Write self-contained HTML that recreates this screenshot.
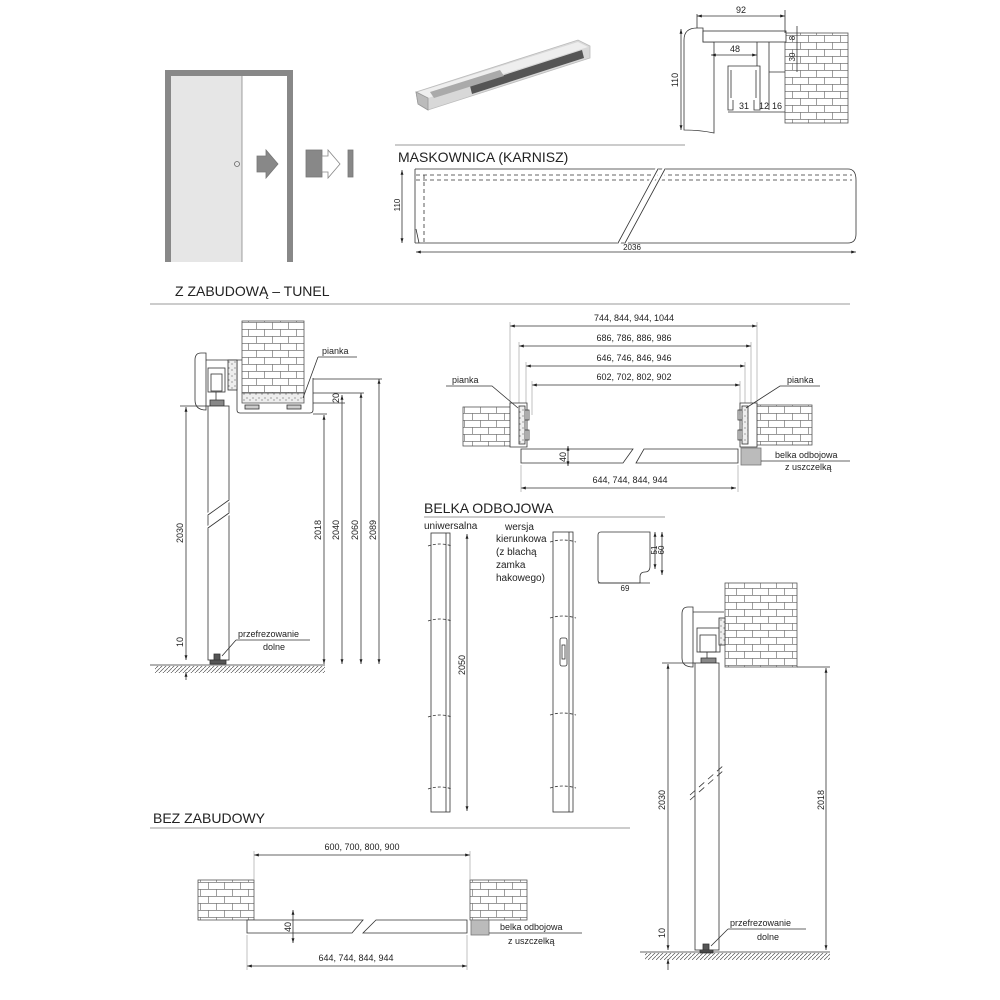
<!DOCTYPE html>
<html><head><meta charset="utf-8"><style>
html,body{margin:0;padding:0;background:#fff;}
svg{display:block;font-family:"Liberation Sans",sans-serif;}
</style></head><body>
<svg width="1000" height="1000" viewBox="0 0 1000 1000" xmlns="http://www.w3.org/2000/svg">
<defs>
<pattern id="brick" width="16" height="14" patternUnits="userSpaceOnUse">
<rect width="16" height="14" fill="#fff"/>
<path d="M0 0.5H16M0 7.5H16M0.5 0V7M8.5 7V14" stroke="#777" stroke-width="0.7" fill="none"/>
</pattern>
<pattern id="hatch" width="4" height="4" patternUnits="userSpaceOnUse">
<path d="M0 4L4 0" stroke="#555" stroke-width="0.7"/>
</pattern>
<pattern id="foam" width="6" height="6" patternUnits="userSpaceOnUse">
<rect width="6" height="6" fill="#eee"/><circle cx="1" cy="2" r="0.6" fill="#666"/><circle cx="4" cy="4" r="0.6" fill="#666"/>
</pattern>
<marker id="a" viewBox="0 0 10 10" refX="10" refY="5" markerWidth="6" markerHeight="6" orient="auto-start-reverse">
<path d="M0 2L10 5L0 8z" fill="#222"/></marker>
</defs>
<g stroke="#333" stroke-width="0.8" fill="none" font-size="9" >

<!-- door icon -->
<rect x="171" y="76" width="71" height="186" fill="#e6e6e6" stroke="none"/>
<path d="M168 262 V73 H290 V262" stroke="#888" stroke-width="6"/>
<line x1="242" y1="76" x2="242" y2="262" stroke="#888"/>
<circle cx="237" cy="164" r="2.5" stroke="#666"/>
<polygon points="257,156 266,156 266,150 278,164 266,178 266,172 257,172" fill="#888" stroke="#777"/>
<rect x="306" y="150" width="16" height="27" fill="#888" stroke="#777"/>
<polygon points="322,156 328,156 328,150 340,164 328,178 328,172 322,172" fill="#fff" stroke="#888"/>
<rect x="348" y="150" width="5" height="27" fill="#888" stroke="#777"/>

<!-- product photo -->
<polygon points="416,92 578,40 590,46 590,58 428,110 418,104" fill="#d8d8d8" stroke="#bbb"/>
<polygon points="418,92 578,42 588,47 428,98" fill="#eee" stroke="none"/>
<polygon points="470,86 582,50 584,58 472,94" fill="#555" stroke="none"/>
<polygon points="430,92 500,70 504,76 434,98" fill="#aaa" stroke="none"/>
<polygon points="416,92 428,98 428,110 418,104" fill="#bbb" stroke="#999"/>

<!-- top right profile -->
<rect x="785" y="33" width="63" height="90" fill="url(#brick)" stroke="#555"/>
<path d="M697 28 Q684 28 684 40 L684 130 Q700 130 714 133 L714 42 L703 42 L703 28 Z" fill="#fff"/>
<rect x="703" y="31" width="83" height="11" fill="#fff"/>
<path d="M757 42 V66 H728 V110 H733 V100 M757 42 L757 66 L760 66 V110 H754 V100 M731 70 V98 M756 70 V98" />
<path d="M769 42 V110 M769 72 H785" />
<line x1="697" y1="16" x2="785" y2="16" marker-start="url(#a)" marker-end="url(#a)"/>
<line x1="697" y1="14" x2="697" y2="28"/><line x1="785" y1="10" x2="785" y2="33"/>
<text x="741" y="13" stroke="none" fill="#222" text-anchor="middle">92</text>
<line x1="681" y1="29" x2="681" y2="130" marker-start="url(#a)" marker-end="url(#a)"/>
<text transform="translate(678,80) rotate(-90)" stroke="none" fill="#222" text-anchor="middle">110</text>
<line x1="711" y1="55" x2="757" y2="55" marker-start="url(#a)" marker-end="url(#a)"/>
<text x="735" y="52" stroke="none" fill="#222" text-anchor="middle">48</text>
<line x1="728" y1="112" x2="785" y2="112"/>
<text x="744" y="109" stroke="none" fill="#222" text-anchor="middle">31</text>
<text x="764" y="109" stroke="none" fill="#222" text-anchor="middle">12</text>
<text x="777" y="109" stroke="none" fill="#222" text-anchor="middle">16</text>
<line x1="797" y1="26" x2="797" y2="72" />
<text transform="translate(795,38) rotate(-90)" stroke="none" fill="#222" text-anchor="middle" font-size="8">8</text>
<text transform="translate(795,57) rotate(-90)" stroke="none" fill="#222" text-anchor="middle" font-size="8">30</text>

<!-- maskownica -->
<line x1="395" y1="145" x2="685" y2="145" stroke="#777"/>
<text x="398" y="162" stroke="none" fill="#222" font-size="14">MASKOWNICA (KARNISZ)</text>
<path d="M415 169 H848 Q856 169 856 180 V234 Q856 243 848 243 H415" />
<path d="M415 169 V243 M416 229 L419 243"/>
<path d="M416 175 H852 M416 180 H852 M424 175 V243" stroke-dasharray="4,3"/>
<path d="M658 169 L618 243 M665 169 L625 243" stroke="#fff" stroke-width="5"/>
<path d="M658 169 L618 243 M665 169 L625 243"/>
<line x1="402" y1="170" x2="402" y2="243" marker-start="url(#a)" marker-end="url(#a)"/>
<text transform="translate(400,205) rotate(-90)" stroke="none" fill="#222" text-anchor="middle" font-size="8">110</text>
<line x1="416" y1="252" x2="856" y2="252" marker-start="url(#a)" marker-end="url(#a)"/>
<text x="632" y="250" stroke="none" fill="#222" text-anchor="middle" font-size="8">2036</text>

<!-- section 2 header -->
<text x="175" y="296" stroke="none" fill="#222" font-size="14">Z ZABUDOWĄ – TUNEL</text>
<line x1="150" y1="304" x2="850" y2="304" stroke="#777"/>

<!-- left tunnel elevation -->
<rect x="242" y="321" width="62" height="72" fill="url(#brick)" stroke="#555"/>
<rect x="242" y="393" width="62" height="10" fill="url(#foam)" stroke="#555"/>
<path d="M237 360 V410 Q237 413 240 413 H310 Q313 413 313 410 V378"/>
<path d="M201 353 Q195 353 195 360 V400 Q195 410 206 410 V353 Z" fill="#fff"/>
<path d="M206 360 H242"/>
<rect x="208" y="368" width="17" height="24" fill="#fff"/>
<rect x="211" y="374" width="11" height="17"/>
<rect x="228" y="360" width="9" height="30" fill="url(#foam)"/>
<path d="M216 392 V400 M210 400 H224 V406 H210 Z" fill="#888"/>
<rect x="245" y="405" width="14" height="4" fill="#ccc"/><rect x="287" y="405" width="14" height="4" fill="#ccc"/>
<rect x="208" y="406" width="21" height="254" fill="#fff"/>
<path d="M208 515 L229 500 M208 528 L229 513" stroke="#fff" stroke-width="4"/>
<path d="M208 515 L229 500 M208 528 L229 513"/>
<path d="M214 660 V654 H220 V660 M210 660 H226 V664 H210Z" fill="#555"/>
<line x1="150" y1="665" x2="325" y2="665"/>
<rect x="155" y="666" width="170" height="7" fill="url(#hatch)" stroke="none"/>
<line x1="186" y1="407" x2="186" y2="660" marker-start="url(#a)" marker-end="url(#a)"/>
<line x1="180" y1="406" x2="208" y2="406"/>
<line x1="186" y1="672" x2="186" y2="680" marker-start="url(#a)"/>
<text transform="translate(183,533) rotate(-90)" stroke="none" fill="#222" text-anchor="middle">2030</text>
<text transform="translate(183,642) rotate(-90)" stroke="none" fill="#222" text-anchor="middle">10</text>
<g marker-start="url(#a)" marker-end="url(#a)">
<line x1="324" y1="415" x2="324" y2="664"/>
<line x1="342" y1="395" x2="342" y2="664"/>
<line x1="361" y1="393" x2="361" y2="664"/>
<line x1="379" y1="379" x2="379" y2="664"/>
</g>
<path d="M313 379 H382 M313 393 H364 M313 403 H345 M313 414 H327"/>
<text transform="translate(321,530) rotate(-90)" stroke="none" fill="#222" text-anchor="middle">2018</text>
<text transform="translate(339,530) rotate(-90)" stroke="none" fill="#222" text-anchor="middle">2040</text>
<text transform="translate(358,530) rotate(-90)" stroke="none" fill="#222" text-anchor="middle">2060</text>
<text transform="translate(376,530) rotate(-90)" stroke="none" fill="#222" text-anchor="middle">2089</text>
<text transform="translate(339,398) rotate(-90)" stroke="none" fill="#222" text-anchor="middle">20</text>
<text x="322" y="354" stroke="none" fill="#222">pianka</text>
<path d="M318 357 H357 M318 357 L303 398"/>
<text x="238" y="637" stroke="none" fill="#222">przefrezowanie</text>
<text x="274" y="650" stroke="none" fill="#222" text-anchor="middle">dolne</text>
<path d="M236 640 H310 M236 640 L222 656"/>

<!-- plan tunnel -->
<g marker-start="url(#a)" marker-end="url(#a)">
<line x1="510" y1="326" x2="757" y2="326"/>
<line x1="519" y1="346" x2="751" y2="346"/>
<line x1="526" y1="366" x2="745" y2="366"/>
<line x1="532" y1="385" x2="740" y2="385"/>
</g>
<path d="M510 322 V405 M519 342 V405 M526 362 V405 M532 381 V415 M757 322 V405 M751 342 V405 M745 362 V405 M740 381 V415" stroke="#999" stroke-width="0.6"/>
<text x="634" y="321" stroke="none" fill="#222" text-anchor="middle">744, 844, 944, 1044</text>
<text x="634" y="341" stroke="none" fill="#222" text-anchor="middle">686, 786, 886, 986</text>
<text x="634" y="361" stroke="none" fill="#222" text-anchor="middle">646, 746, 846, 946</text>
<text x="634" y="380" stroke="none" fill="#222" text-anchor="middle">602, 702, 802, 902</text>
<rect x="463" y="407" width="57" height="39" fill="url(#brick)" stroke="#555"/>
<path d="M510 403 H527 V447 H510 Z" fill="#fff"/>
<rect x="519" y="406" width="6" height="38" fill="url(#foam)"/>
<path d="M525 410 H529 V420 H525 M525 430 H529 V440 H525"/>
<rect x="750" y="405" width="62" height="40" fill="url(#brick)" stroke="#555"/>
<path d="M757 403 H740 V447 H757 Z" fill="#fff"/>
<rect x="742" y="406" width="6" height="38" fill="url(#foam)"/>
<path d="M742 410 H738 V420 H742 M742 430 H738 V440 H742"/>
<text x="452" y="383" stroke="none" fill="#222">pianka</text>
<path d="M446 386 H492 L518 408"/>
<text x="787" y="383" stroke="none" fill="#222">pianka</text>
<path d="M820 386 H780 L746 408"/>
<path d="M521 449 H633 L623 463 H521 Z M644 449 H738 V463 H636 Z" fill="#fff"/>
<rect x="741" y="448" width="20" height="17" fill="#bbb" stroke="#777"/>
<line x1="568" y1="446" x2="568" y2="466" marker-start="url(#a)" marker-end="url(#a)"/>
<text transform="translate(566,457) rotate(-90)" stroke="none" fill="#222" text-anchor="middle">40</text>
<line x1="521" y1="488" x2="736" y2="488" marker-start="url(#a)" marker-end="url(#a)"/>
<path d="M521 465 V492 M738 465 V492" stroke="#999" stroke-width="0.6"/>
<text x="630" y="483" stroke="none" fill="#222" text-anchor="middle">644, 744, 844, 944</text>
<text x="775" y="458" stroke="none" fill="#222">belka odbojowa</text>
<text x="785" y="470" stroke="none" fill="#222">z uszczelką</text>
<line x1="761" y1="461" x2="850" y2="461"/>

<!-- belka odbojowa -->
<text x="424" y="513" stroke="none" fill="#222" font-size="14">BELKA ODBOJOWA</text>
<line x1="424" y1="517" x2="665" y2="517" stroke="#777"/>
<text x="424" y="529" stroke="none" fill="#222" font-size="10">uniwersalna</text>
<g stroke="none" fill="#222" font-size="10">
<text x="505" y="530">wersja</text>
<text x="496" y="542">kierunkowa</text>
<text x="496" y="555">(z blachą</text>
<text x="496" y="568">zamka</text>
<text x="496" y="581">hakowego)</text>
</g>
<rect x="431" y="533" width="19" height="279" fill="#fff"/>
<line x1="446" y1="533" x2="446" y2="812"/>
<rect x="553" y="532" width="20" height="280" fill="#fff"/>
<line x1="569" y1="532" x2="569" y2="812"/>
<rect x="560" y="638" width="7" height="28" rx="2"/>
<rect x="562" y="645" width="3" height="14"/>
<path d="M428 546 Q440 542 452 546 M428 621 Q440 617 452 621 M428 717 Q440 713 452 717 M428 789 Q440 785 452 789 M550 542 Q563 538 576 542 M550 618 Q563 614 576 618 M550 715 Q563 711 576 715 M550 788 Q563 784 576 788" stroke-dasharray="3,2"/>
<line x1="467" y1="534" x2="467" y2="811" marker-start="url(#a)" marker-end="url(#a)"/>
<text transform="translate(465,665) rotate(-90)" stroke="none" fill="#222" text-anchor="middle">2050</text>
<path d="M601 532 H650 V566 Q650 572 645 572 Q640 572 640 577 V583 H601 Q598 583 598 580 V535 Q598 532 601 532 Z"/>
<line x1="598" y1="583" x2="650" y2="583"/>
<text x="625" y="591" stroke="none" fill="#222" text-anchor="middle" font-size="8">69</text>
<line x1="655" y1="532" x2="655" y2="569" marker-start="url(#a)" marker-end="url(#a)"/>
<line x1="662" y1="532" x2="662" y2="575" marker-start="url(#a)" marker-end="url(#a)"/>
<text transform="translate(657,550) rotate(-90)" stroke="none" fill="#222" text-anchor="middle" font-size="8">51</text>
<text transform="translate(664,550) rotate(-90)" stroke="none" fill="#222" text-anchor="middle" font-size="8">60</text>

<!-- bottom right elevation -->
<rect x="725" y="583" width="72" height="84" fill="url(#brick)" stroke="#555"/>
<path d="M688 607 Q682 607 682 614 V658 Q682 667 693 667 V607 Z" fill="#fff"/>
<path d="M693 612 H724"/>
<rect x="697" y="628" width="23" height="24" fill="#fff"/>
<rect x="700" y="635" width="16" height="17"/>
<rect x="719" y="618" width="6" height="27" fill="url(#foam)"/>
<path d="M707 652 V658 M701 658 H716 V663 H701 Z" fill="#888"/>
<rect x="695" y="663" width="24" height="287" fill="#fff"/>
<path d="M690 800 L724 770 M690 795 L724 765" stroke-dasharray="7,5"/>
<path d="M703 950 V944 H709 V950 M700 950 H713 V953 H700Z" fill="#555"/>
<line x1="640" y1="952" x2="830" y2="952"/>
<rect x="645" y="953" width="185" height="7" fill="url(#hatch)" stroke="none"/>
<line x1="668" y1="664" x2="668" y2="950" marker-start="url(#a)" marker-end="url(#a)"/>
<line x1="662" y1="663" x2="695" y2="663"/>
<line x1="668" y1="959" x2="668" y2="970" marker-start="url(#a)"/>
<text transform="translate(665,800) rotate(-90)" stroke="none" fill="#222" text-anchor="middle">2030</text>
<text transform="translate(665,933) rotate(-90)" stroke="none" fill="#222" text-anchor="middle">10</text>
<line x1="826" y1="668" x2="826" y2="950" marker-start="url(#a)" marker-end="url(#a)"/>
<line x1="797" y1="667" x2="830" y2="667"/>
<text transform="translate(824,800) rotate(-90)" stroke="none" fill="#222" text-anchor="middle">2018</text>
<text x="730" y="926" stroke="none" fill="#222">przefrezowanie</text>
<text x="768" y="940" stroke="none" fill="#222" text-anchor="middle">dolne</text>
<path d="M728 929 H806 M728 929 L711 946"/>

<!-- bez zabudowy -->
<text x="153" y="823" stroke="none" fill="#222" font-size="14">BEZ  ZABUDOWY</text>
<line x1="150" y1="828" x2="630" y2="828" stroke="#777"/>
<rect x="198" y="880" width="56" height="40" fill="url(#brick)" stroke="#555"/>
<rect x="470" y="880" width="57" height="40" fill="url(#brick)" stroke="#555"/>
<line x1="254" y1="855" x2="470" y2="855" marker-start="url(#a)" marker-end="url(#a)"/>
<path d="M254 851 V880 M470 851 V880" stroke="#999" stroke-width="0.6"/>
<text x="362" y="850" stroke="none" fill="#222" text-anchor="middle">600, 700, 800, 900</text>
<path d="M247 920 H363 L352 933 H247 Z M376 920 H467 V933 H363 Z" fill="#fff"/>
<rect x="471" y="920" width="18" height="15" fill="#bbb" stroke="#777"/>
<line x1="293" y1="910" x2="293" y2="943" marker-start="url(#a)" marker-end="url(#a)"/>
<text transform="translate(291,927) rotate(-90)" stroke="none" fill="#222" text-anchor="middle">40</text>
<line x1="247" y1="966" x2="467" y2="966" marker-start="url(#a)" marker-end="url(#a)"/>
<path d="M247 935 V970 M467 935 V970" stroke="#999" stroke-width="0.6"/>
<text x="356" y="961" stroke="none" fill="#222" text-anchor="middle">644, 744, 844, 944</text>
<text x="500" y="930" stroke="none" fill="#222">belka odbojowa</text>
<text x="508" y="944" stroke="none" fill="#222">z uszczelką</text>
<line x1="489" y1="933" x2="582" y2="933"/>
</g>
</svg>
</body></html>
